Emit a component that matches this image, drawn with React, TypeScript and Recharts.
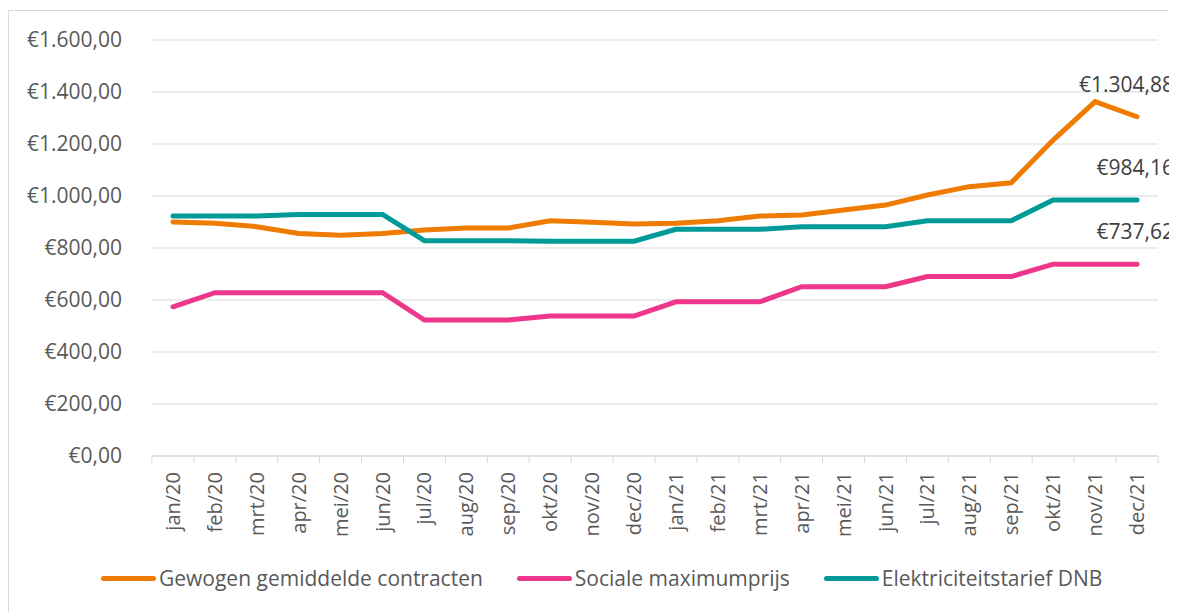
import { CartesianGrid, LabelList, Legend, Line, LineChart, XAxis, YAxis } from "recharts";

const months = [
  "jan/20", "feb/20", "mrt/20", "apr/20", "mei/20", "jun/20", "jul/20", "aug/20", "sep/20", "okt/20", "nov/20", "dec/20",
  "jan/21", "feb/21", "mrt/21", "apr/21", "mei/21", "jun/21", "jul/21", "aug/21", "sep/21", "okt/21", "nov/21", "dec/21",
];

const gewogen = [900, 895, 882, 856, 849, 856, 869, 877, 877, 905, 899, 892, 895, 905, 923, 927, 946, 965, 1004, 1036, 1051, 1215, 1363, 1304.88];
const sociaal = [574, 628, 628, 628, 628, 628, 523, 523, 523, 538, 538, 538, 593, 593, 593, 651, 651, 651, 690, 690, 690, 737.62, 737.62, 737.62];
const dnb = [923, 923, 923, 929, 929, 929, 828, 828, 828, 826, 826, 826, 872, 872, 872, 882, 882, 882, 905, 905, 905, 984.16, 984.16, 984.16];

const seriesNames = ["Gewogen gemiddelde contracten", "Sociale maximumprijs", "Elektriciteitstarief DNB"];
const seriesColors = ["#ef7b00", "#ee368b", "#009b98"];

const yTicks = [0, 200, 400, 600, 800, 1000, 1200, 1400, 1600];

const data = months.map((m, i) => ({ maand: m, gewogen: gewogen[i], sociaal: sociaal[i], dnb: dnb[i] }));

const FONT = "'Open Sans', sans-serif";
const GREY = "#595959";
const GRID = "#d9d9d9";

// €1.304,88 style
function euro(v: number) {
  const [int, dec] = v.toFixed(2).split(".");
  return "€" + int.replace(/\B(?=(\d{3})+(?!\d))/g, ".") + "," + dec;
}

function MonthTick(props: any) {
  const { x, y, payload, index } = props;
  const half = 21;
  return (
    <g>
      <line x1={x - half} y1={y} x2={x - half} y2={y + 7} stroke={GRID} />
      {index === months.length - 1 && <line x1={x + half} y1={y} x2={x + half} y2={y + 7} stroke={GRID} />}
      <text
        transform={`translate(${x},${y + 16}) rotate(-90)`}
        textAnchor="end"
        dy="0.35em"
        fill={GREY}
        fontSize={20}
        fontFamily={FONT}
      >
        {payload.value}
      </text>
    </g>
  );
}

// only the last point of each series gets a value label
function lastLabel(props: any) {
  const { x, y, value, index } = props;
  if (index !== months.length - 1) return null;
  return (
    <text x={x + 37} y={y - 25} textAnchor="end" fill="#404040" fontSize={21} fontFamily={FONT}>
      {euro(value)}
    </text>
  );
}

function LegendBox() {
  return (
    <div style={{ display: "flex", alignItems: "center", fontFamily: FONT, fontSize: 21, color: GREY, whiteSpace: "nowrap" }}>
      {seriesNames.map((name, i) => (
        <div key={name} style={{ display: "flex", alignItems: "center", marginRight: 34 }}>
          <span style={{ display: "inline-block", width: 55, height: 5, borderRadius: 3, background: seriesColors[i], marginRight: 3 }} />
          <span>{name}</span>
        </div>
      ))}
    </div>
  );
}

export default function App() {
  return (
    <div style={{ marginTop: 2, width: 1168, height: 601, borderLeft: `1px solid ${GRID}`, borderTop: `1px solid ${GRID}` }}>
      <LineChart width={1168} height={601} data={data} margin={{ top: 29, right: 19, bottom: 66, left: 0 }}>
        <CartesianGrid vertical={false} stroke={GRID} />
        <XAxis
          dataKey="maand"
          interval={0}
          padding={{ left: 21, right: 21 }}
          height={90}
          tickSize={0}
          tickMargin={0}
          stroke={GRID}
          tick={<MonthTick />}
        />
        <YAxis
          domain={[0, 1600]}
          ticks={yTicks}
          width={143}
          axisLine={false}
          tickLine={false}
          tickSize={0}
          tickMargin={30}
          tickFormatter={euro}
          tick={{ fill: GREY, fontSize: 21, fontFamily: FONT }}
        />
        <Legend
          layout="horizontal"
          verticalAlign="middle"
          wrapperStyle={{ top: 553, left: 92, width: "auto" }}
          content={<LegendBox />}
        />
        <Line name={seriesNames[0]} dataKey="gewogen" stroke={seriesColors[0]} strokeWidth={5} dot={false} strokeLinecap="round" isAnimationActive={false}>
          <LabelList dataKey="gewogen" content={lastLabel} />
        </Line>
        <Line name={seriesNames[1]} dataKey="sociaal" stroke={seriesColors[1]} strokeWidth={5} dot={false} strokeLinecap="round" isAnimationActive={false}>
          <LabelList dataKey="sociaal" content={lastLabel} />
        </Line>
        <Line name={seriesNames[2]} dataKey="dnb" stroke={seriesColors[2]} strokeWidth={5} dot={false} strokeLinecap="round" isAnimationActive={false}>
          <LabelList dataKey="dnb" content={lastLabel} />
        </Line>
      </LineChart>
    </div>
  );
}
